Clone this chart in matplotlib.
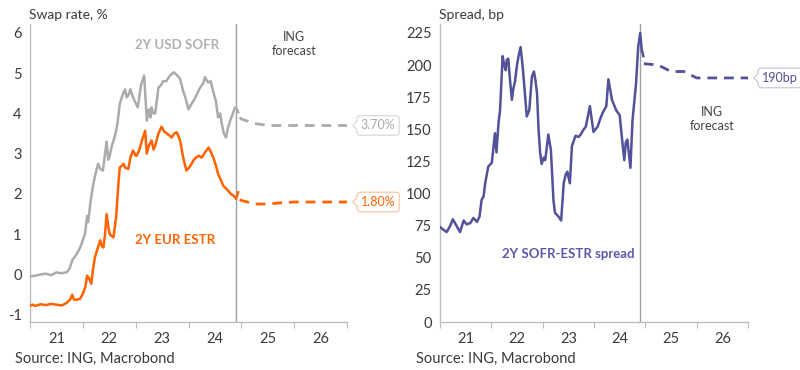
import matplotlib
matplotlib.use("Agg")
import matplotlib.pyplot as plt
from matplotlib.path import Path

plt.rcParams["font.family"] = ["Lato", "DejaVu Sans"]
plt.rcParams["axes.unicode_minus"] = False

# --- data (decimal years) ---
sofr_t = [2021.00, 2021.10, 2021.20, 2021.30, 2021.40, 2021.50, 2021.60, 2021.70, 2021.75, 2021.80,
          2021.88, 2021.95, 2022.04, 2022.08, 2022.10, 2022.15, 2022.20, 2022.25, 2022.29, 2022.33,
          2022.38, 2022.42, 2022.45, 2022.48, 2022.50, 2022.55, 2022.60, 2022.65, 2022.70, 2022.75,
          2022.80, 2022.83, 2022.86, 2022.90, 2022.95, 2023.00, 2023.04, 2023.10, 2023.16, 2023.19,
          2023.21, 2023.25, 2023.28, 2023.30, 2023.33, 2023.37, 2023.43, 2023.48, 2023.52, 2023.58,
          2023.65, 2023.72, 2023.78, 2023.84, 2023.90, 2023.94, 2024.00, 2024.04, 2024.09, 2024.15,
          2024.22, 2024.28, 2024.31, 2024.37, 2024.42, 2024.47, 2024.52, 2024.56, 2024.60, 2024.63,
          2024.67, 2024.71, 2024.75, 2024.79, 2024.84, 2024.88, 2024.92, 2024.94]
sofr = [-0.05, -0.03, 0.00, 0.02, -0.02, 0.05, 0.03, 0.06, 0.15, 0.35,
        0.50, 0.67, 1.00, 1.45, 1.30, 1.85, 2.26, 2.55, 2.75, 2.62,
        2.58, 3.00, 3.30, 2.85, 2.90, 3.20, 3.40, 3.70, 4.24, 4.45,
        4.60, 4.40, 4.44, 4.60, 4.40, 4.25, 4.15, 4.70, 4.94, 4.30,
        3.82, 4.10, 3.90, 4.15, 4.00, 4.00, 4.64, 4.70, 4.80, 4.80,
        4.94, 5.02, 4.95, 4.86, 4.55, 4.40, 4.10, 4.20, 4.30, 4.45,
        4.64, 4.75, 4.90, 4.77, 4.80, 4.53, 4.30, 3.90, 4.00, 3.74,
        3.50, 3.40, 3.65, 3.82, 4.00, 4.15, 4.10, 4.03]

estr_t = [2021.00, 2021.05, 2021.10, 2021.20, 2021.30, 2021.40, 2021.50, 2021.60, 2021.70, 2021.76,
          2021.80, 2021.83, 2021.88, 2021.95, 2022.00, 2022.05, 2022.08, 2022.12, 2022.16, 2022.20,
          2022.23, 2022.28, 2022.33, 2022.36, 2022.39, 2022.42, 2022.45, 2022.48, 2022.51, 2022.55,
          2022.58, 2022.63, 2022.67, 2022.70, 2022.74, 2022.77, 2022.80, 2022.86, 2022.90, 2022.95,
          2023.00, 2023.02, 2023.07, 2023.12, 2023.18, 2023.21, 2023.25, 2023.30, 2023.34, 2023.37,
          2023.43, 2023.49, 2023.54, 2023.59, 2023.64, 2023.68, 2023.73, 2023.78, 2023.84, 2023.90,
          2023.96, 2024.01, 2024.06, 2024.10, 2024.15, 2024.20, 2024.25, 2024.31, 2024.38, 2024.42,
          2024.47, 2024.52, 2024.56, 2024.61, 2024.66, 2024.70, 2024.75, 2024.80, 2024.85, 2024.90,
          2024.94]
estr = [-0.77, -0.75, -0.78, -0.74, -0.76, -0.73, -0.75, -0.77, -0.70, -0.62,
        -0.50, -0.62, -0.63, -0.60, -0.48, -0.30, -0.03, -0.10, -0.23, 0.20,
        0.43, 0.65, 0.85, 0.70, 0.67, 1.00, 1.50, 1.20, 1.00, 0.95,
        0.92, 1.42, 2.20, 2.66, 2.70, 2.75, 2.65, 2.62, 2.90, 3.08,
        2.95, 2.95, 3.10, 3.33, 3.57, 3.00, 3.20, 3.33, 3.10, 3.20,
        3.50, 3.67, 3.55, 3.50, 3.45, 3.40, 3.50, 3.53, 3.33, 2.90,
        2.58, 2.65, 2.75, 2.85, 2.91, 2.95, 2.90, 3.03, 3.15, 3.05,
        2.90, 2.70, 2.50, 2.35, 2.20, 2.15, 2.08, 2.00, 1.96, 1.88,
        2.04]

fc_t = [2024.97, 2025.0, 2025.25, 2025.5, 2025.75, 2026.0, 2026.25, 2026.5, 2026.75, 2027.0]
sofr_fc = [3.90, 3.86, 3.75, 3.70, 3.70, 3.70, 3.70, 3.70, 3.70, 3.70]
estr_fc = [1.86, 1.84, 1.75, 1.75, 1.78, 1.80, 1.80, 1.80, 1.80, 1.80]

spread_t = [2021.00, 2021.06, 2021.13, 2021.20, 2021.25, 2021.32, 2021.39, 2021.46, 2021.52, 2021.59,
            2021.65, 2021.72, 2021.77, 2021.81, 2021.85, 2021.88, 2021.94, 2022.01, 2022.07, 2022.10,
            2022.14, 2022.17, 2022.22, 2022.25, 2022.28, 2022.30, 2022.33, 2022.36, 2022.40, 2022.43,
            2022.46, 2022.50, 2022.53, 2022.57, 2022.61, 2022.65, 2022.69, 2022.74, 2022.79, 2022.83,
            2022.86, 2022.89, 2022.92, 2022.95, 2022.98, 2023.02, 2023.05, 2023.11, 2023.16, 2023.21,
            2023.24, 2023.31, 2023.36, 2023.41, 2023.45, 2023.48, 2023.53, 2023.57, 2023.64, 2023.70,
            2023.74, 2023.80, 2023.84, 2023.92, 2023.99, 2024.07, 2024.12, 2024.17, 2024.24, 2024.28,
            2024.35, 2024.43, 2024.50, 2024.54, 2024.59, 2024.62, 2024.65, 2024.71, 2024.75, 2024.82,
            2024.86, 2024.90, 2024.93, 2024.96]
spread = [74, 72, 70, 75, 80, 75, 70, 79, 76, 77,
          81, 78, 82, 95, 98, 108, 121, 124, 147, 132,
          155, 165, 207, 200, 196, 204, 205, 190, 173, 182,
          187, 200, 207, 214, 199, 180, 160, 165, 191, 195,
          188, 178, 150, 132, 123, 128, 126, 146, 134, 95,
          85, 82, 79, 108, 115, 117, 108, 137, 145, 144,
          146, 150, 152, 168, 148, 152, 158, 163, 168, 189,
          173, 165, 161, 145, 126, 140, 142, 120, 157, 186,
          214, 225, 212, 207]
spread_fc_t = [2024.97, 2025.0, 2025.25, 2025.5, 2025.75, 2026.0, 2026.25, 2026.5, 2026.75, 2027.0]
spread_fc = [201, 201, 200, 195, 195, 190, 190, 190, 190, 190]

years = [2021, 2022, 2023, 2024, 2025, 2026, 2027]
year_labels = ["21", "22", "23", "24", "25", "26"]
forecast_start = 2024.9

GREY = "#ABABAB"
ORANGE = "#FF6200"
PURPLE = "#525199"
AXIS = "#BDBDBD"
TXT = "#3A3A3A"


def callout(x0, y0, width, height, mutation_size):
    # rounded box with a small notch pointing left
    pad = 0.3 * mutation_size
    x0, y0 = x0 - pad, y0 - pad
    x1, y1 = x0 + width + 2 * pad, y0 + height + 2 * pad
    r = 0.25 * mutation_size
    n = 0.35 * mutation_size
    ym = (y0 + y1) / 2
    verts = [(x0 + r, y0), (x1 - r, y0), (x1, y0), (x1, y0 + r), (x1, y1 - r), (x1, y1),
             (x1 - r, y1), (x0 + r, y1), (x0, y1), (x0, y1 - r), (x0, ym + n), (x0 - n, ym),
             (x0, ym - n), (x0, y0 + r), (x0, y0), (x0 + r, y0), (x0 + r, y0)]
    codes = [Path.MOVETO, Path.LINETO, Path.CURVE3, Path.CURVE3, Path.LINETO, Path.CURVE3,
             Path.CURVE3, Path.LINETO, Path.CURVE3, Path.CURVE3, Path.LINETO, Path.LINETO,
             Path.LINETO, Path.LINETO, Path.CURVE3, Path.CURVE3, Path.CLOSEPOLY]
    return Path(verts, codes)


def end_label(ax, x, y, text, color, edge):
    ax.annotate(text, xy=(x, y), xytext=(10, 0), textcoords="offset points",
                ha="left", va="center", fontsize=9, color=color, annotation_clip=False,
                bbox=dict(boxstyle=callout, fc="white", ec=edge, lw=0.9))


def style_axis(ax):
    ax.set_xlim(2021, 2027)
    for s in ["top", "right"]:
        ax.spines[s].set_visible(False)
    for s in ["left", "bottom"]:
        ax.spines[s].set_color(AXIS)
        ax.spines[s].set_linewidth(1.0)
    ax.set_xticks(years)
    ax.set_xticklabels([])
    ax.set_xticks([y + 0.5 for y in years[:-1]], minor=True)
    ax.set_xticklabels(year_labels, minor=True)
    ax.tick_params(axis="x", which="major", length=4, color=AXIS, direction="out")
    ax.tick_params(axis="x", which="minor", length=0, pad=7, labelsize=10.5, labelcolor=TXT)
    ax.tick_params(axis="y", length=0, pad=6, labelsize=10.5, labelcolor=TXT)
    ax.axvline(forecast_start, color="#A0A0A0", lw=1.0, zorder=1)


fig = plt.figure(figsize=(8, 3.7), dpi=100)
ax1 = fig.add_axes([30 / 800, 1 - 322 / 370, 317 / 800, 298 / 370])
ax2 = fig.add_axes([440 / 800, 1 - 322 / 370, 308 / 800, 298 / 370])

# left panel: swap rates
style_axis(ax1)
ax1.set_ylim(-1.18, 6.22)
ax1.set_yticks(range(-1, 7))
ax1.plot(sofr_t, sofr, color=GREY, lw=1.8, zorder=3)
ax1.plot(estr_t, estr, color=ORANGE, lw=1.8, zorder=3)
ax1.plot(fc_t, sofr_fc, color=GREY, lw=2, ls=(0, (3.5, 2.5)), zorder=3)
ax1.plot(fc_t, estr_fc, color=ORANGE, lw=2, ls=(0, (3.5, 2.5)), zorder=3)
ax1.text(2023.78, 5.7, "2Y USD SOFR", color="#B0B0B0", fontsize=9.5, fontweight="bold",
         ha="center", va="center")
ax1.text(2023.75, 0.85, "2Y EUR ESTR", color=ORANGE, fontsize=9.5, fontweight="bold",
         ha="center", va="center")
ax1.text(2026.0, 5.72, "ING\nforecast", color="#444444", fontsize=9, ha="center", va="center",
         linespacing=1.15)
end_label(ax1, fc_t[-1], sofr_fc[-1], "3.70%", "#AAAAAA", "#DADADA")
end_label(ax1, fc_t[-1], estr_fc[-1], "1.80%", ORANGE, "#FFC6A6")

# right panel: spread
style_axis(ax2)
ax2.set_ylim(0, 232)
ax2.set_yticks(range(0, 226, 25))
ax2.plot(spread_t, spread, color=PURPLE, lw=1.8, zorder=3)
ax2.plot(spread_fc_t, spread_fc, color=PURPLE, lw=2, ls=(0, (3.5, 2.5)), zorder=3)
ax2.text(2023.5, 53, "2Y SOFR-ESTR spread", color="#5A59A8", fontsize=9.5, fontweight="bold",
         ha="center", va="center")
ax2.text(2026.3, 158, "ING\nforecast", color="#444444", fontsize=9, ha="center", va="center",
         linespacing=1.15)
end_label(ax2, spread_fc_t[-1], spread_fc[-1], "190bp", PURPLE, "#C9C9E6")

fig.text(29 / 800, 1 - 15 / 370, "Swap rate, %", fontsize=10, color=TXT, va="center")
fig.text(439 / 800, 1 - 15 / 370, "Spread, bp", fontsize=10, color=TXT, va="center")
fig.text(15 / 800, 1 - 359 / 370, "Source: ING, Macrobond", fontsize=10.5, color=TXT, va="center")
fig.text(416 / 800, 1 - 359 / 370, "Source: ING, Macrobond", fontsize=10.5, color=TXT, va="center")

fig.savefig("out.png", dpi=100)
